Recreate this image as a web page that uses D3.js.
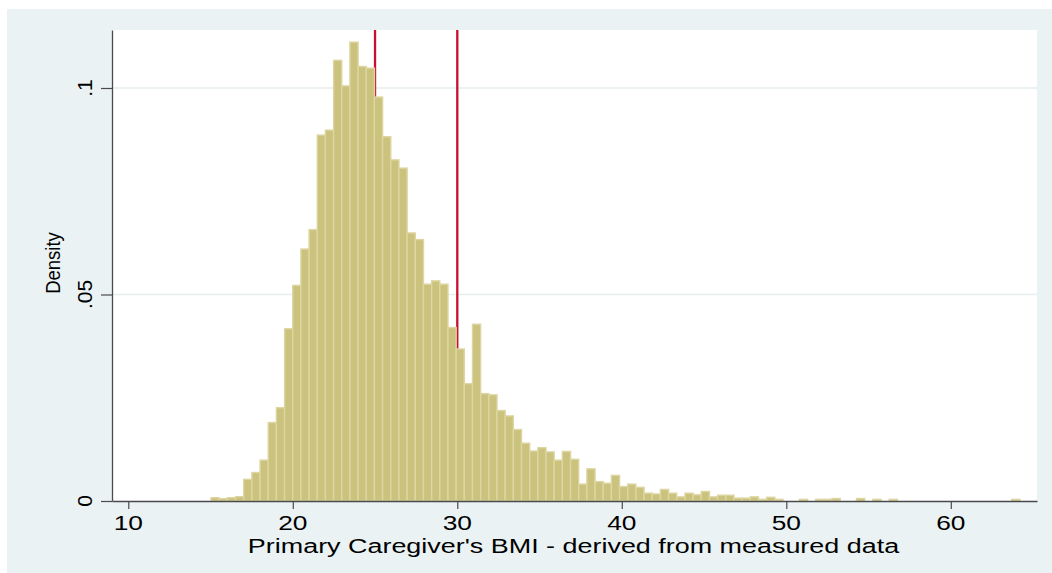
<!DOCTYPE html>
<html>
<head>
<meta charset="utf-8">
<script src="https://cdn.jsdelivr.net/npm/d3@7"></script>
<style>
  html, body { margin: 0; padding: 0; background: #ffffff; }
  svg { display: block; }
  text { font-family: "Liberation Sans", Arial, Helvetica, sans-serif; fill: #000; }
</style>
</head>
<body>
<svg id="chart" width="1052" height="573"></svg>
<script>
// ---- data ----
const binStart = 15.03;          // lower edge of first bin (BMI)
const binWidth = 0.4967;         // bin width (BMI)
const density = [
  0.0008, 0.00056, 0.0008, 0.00105, 0.00525, 0.0069, 0.0099, 0.0190, 0.0226, 0.0417,
  0.0522, 0.0610, 0.0657, 0.0886, 0.0898, 0.1067, 0.1005, 0.1111, 0.1052, 0.1048,
  0.0978, 0.0882, 0.0826, 0.0806, 0.0649, 0.0633, 0.0525, 0.0533, 0.0525, 0.0420,
  0.0368, 0.0284, 0.0428, 0.0260, 0.0257, 0.0219, 0.0206, 0.0173, 0.0140, 0.0121,
  0.0129, 0.0119, 0.0099, 0.0120, 0.0101, 0.0041, 0.0078, 0.0047, 0.0043, 0.0062,
  0.0035, 0.0041, 0.0033, 0.0019, 0.0017, 0.0028, 0.0019, 0.0010, 0.0019, 0.0015,
  0.0023, 0.0010, 0.0014, 0.0014, 0.0007, 0.0007, 0.0010, 0.0004, 0.0009, 0.0004,
  0, 0, 0.0004, 0, 0.0004, 0.0004, 0.0006, 0, 0, 0.0006,
  0, 0.0004, 0, 0.0004, 0, 0, 0, 0, 0, 0,
  0, 0, 0, 0, 0, 0, 0, 0, 0.0004
];
const xLines = [25, 30];
const xTicks = [10, 20, 30, 40, 50, 60];
const yTicks = [0, 0.05, 0.1];
const yTickLabels = ["0", ".05", ".1"];
const xTitle = "Primary Caregiver's BMI - derived from measured data";
const yTitle = "Density";

// ---- layout ----
const svg = d3.select("#chart");
const plot = { left: 112, right: 1037, top: 30, bottom: 501 };

const x = d3.scaleLinear().domain([9.01, 65.24]).range([plot.left, plot.right]);
const y = d3.scaleLinear().domain([0, 0.11404]).range([plot.bottom, plot.top]);

// outer graph region
svg.append("rect").attr("x", 7).attr("y", 9).attr("width", 1045).attr("height", 564)
  .attr("fill", "#eaf2f3");
// plot region
svg.append("rect").attr("x", plot.left).attr("y", plot.top)
  .attr("width", plot.right - plot.left).attr("height", plot.bottom - plot.top)
  .attr("fill", "#ffffff");

// gridlines
svg.append("g").selectAll("line").data(yTicks.filter(v => v > 0)).join("line")
  .attr("x1", plot.left).attr("x2", plot.right)
  .attr("y1", d => y(d)).attr("y2", d => y(d))
  .attr("stroke", "#e6eef0").attr("stroke-width", 1.3);

// reference lines (behind bars)
svg.append("g").selectAll("line").data(xLines).join("line")
  .attr("x1", d => x(d)).attr("x2", d => x(d))
  .attr("y1", plot.top).attr("y2", plot.bottom)
  .attr("stroke", "#c8102e").attr("stroke-width", 2.3);

// bars
const bins = density.map((d, i) => ({ x0: binStart + i * binWidth, x1: binStart + (i + 1) * binWidth, d }));
svg.append("g").selectAll("rect").data(bins.filter(b => b.d > 0)).join("rect")
  .attr("x", b => x(b.x0))
  .attr("width", b => x(b.x1) - x(b.x0))
  .attr("y", b => y(b.d))
  .attr("height", b => y(0) - y(b.d))
  .attr("fill", "#cac27d")
  .attr("stroke", "#ddd6a2")
  .attr("stroke-width", 1.4);

// x axis
const xAxis = d3.axisBottom(x).tickValues(xTicks).tickSize(8).tickSizeOuter(0).tickFormat(() => "");
const gx = svg.append("g").attr("transform", `translate(0,${plot.bottom})`).call(xAxis);
gx.select(".domain").attr("stroke", "#4a4a4a").attr("stroke-width", 1.3);
gx.selectAll(".tick line").attr("stroke", "#4a4a4a").attr("stroke-width", 1.2);

svg.append("g").selectAll("text").data(xTicks).join("text")
  .attr("transform", d => `translate(${x(d)},530) scale(1.35,1)`)
  .attr("text-anchor", "middle")
  .attr("font-size", 19.5)
  .text(d => d);

// y axis
const yAxis = d3.axisLeft(y).tickValues(yTicks).tickSize(11).tickSizeOuter(0).tickFormat(() => "");
const gy = svg.append("g").attr("transform", `translate(${plot.left},0)`).call(yAxis);
gy.select(".domain").attr("stroke", "#4a4a4a").attr("stroke-width", 1.3);
gy.selectAll(".tick line").attr("stroke", "#4a4a4a").attr("stroke-width", 1.2);

svg.append("g").selectAll("text").data(yTicks).join("text")
  .attr("transform", d => `translate(92,${y(d)}) rotate(-90)`)
  .attr("text-anchor", "middle")
  .attr("font-size", 21)
  .text((d, i) => yTickLabels[i]);

// axis titles
svg.append("text")
  .attr("transform", `translate(${(plot.left + plot.right) / 2 - 1},553) scale(1.32,1)`)
  .attr("text-anchor", "middle")
  .attr("font-size", 20.4)
  .text(xTitle);

svg.append("text")
  .attr("transform", `translate(60,263) scale(1.1,1) rotate(-90)`)
  .attr("text-anchor", "middle")
  .attr("font-size", 18.5)
  .text(yTitle);
</script>
</body>
</html>
